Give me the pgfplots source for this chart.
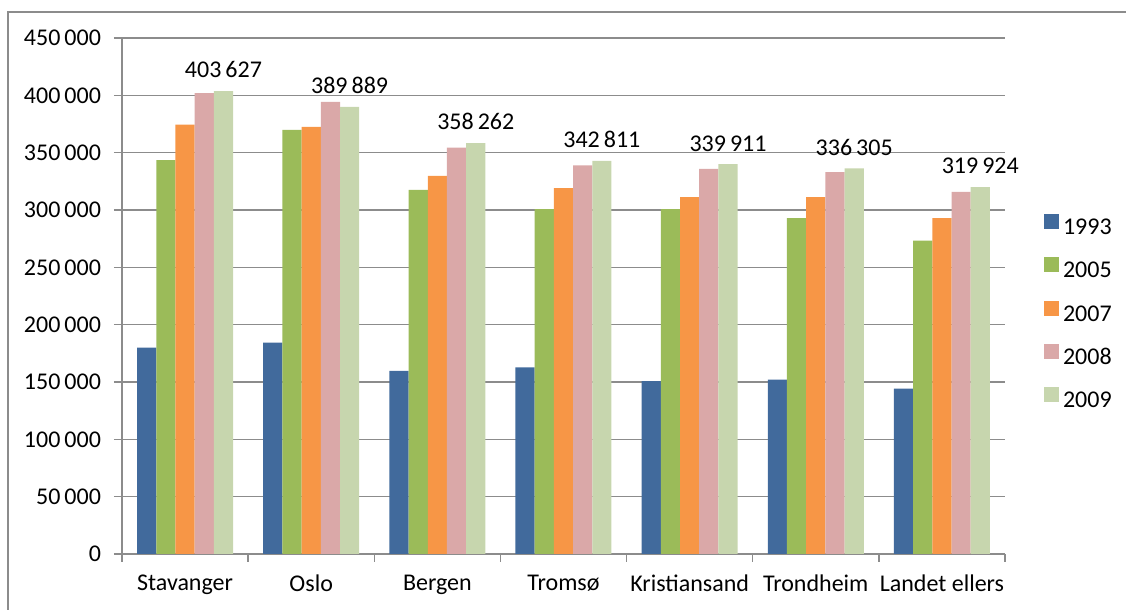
\documentclass[border=0pt]{standalone}
\usepackage{fontspec}
\setmainfont{Carlito}
\usepackage{pgfplots}
\pgfplotsset{compat=1.18}

\definecolor{c1993}{HTML}{416A9C}
\definecolor{c2005}{HTML}{9BBB59}
\definecolor{c2007}{HTML}{F79646}
\definecolor{c2008}{HTML}{DAA8A8}
\definecolor{c2009}{HTML}{C7D6AE}
\definecolor{axgray}{HTML}{8C8C8C}

\begin{document}
\begin{tikzpicture}[font=\fontsize{12}{14}\selectfont]
\begin{axis}[
  at={(61pt,28pt)}, anchor=south west,
  scale only axis, width=441.5pt, height=258pt,
  ybar=0pt, bar width=9.6pt,
  xmin=-0.5, xmax=6.5,
  ymin=0, ymax=450000,
  ytick={0,50000,...,450000},
  scaled y ticks=false,
  /pgf/number format/.cd, fixed, precision=0, 1000 sep={\,}, assume math mode=true,
  /pgfplots/.cd,
  axis x line*=bottom, axis y line*=left,
  axis line style={axgray, line width=0.75pt},
  ymajorgrids, grid style={axgray, line width=0.75pt},
  tick style={axgray, line width=0.75pt},
  major tick length=4pt, tick align=outside,
  xtick={-0.5,0.5,...,6.5}, xticklabels={},
  extra x ticks={0,1,2,3,4,5,6},
  extra x tick labels={Stavanger,Oslo,Bergen,Tromsø,Kristiansand,Trondheim,Landet ellers},
  extra x tick style={major tick length=0pt, xticklabel style={yshift=-7pt}},
  yticklabel style={xshift=-3pt},
  legend style={draw=none, fill=none, at={(1.037,0.467)}, anchor=west,
    nodes={inner sep=0pt, text height=8.5pt, text depth=2pt},
    row sep=9.4pt, column sep=2pt},
  legend cell align=left,
  legend image code/.code={\fill[#1] (0pt,-0.5pt) rectangle (7.5pt,7pt);},
]
\addplot[fill=c1993, draw=none] coordinates {(0,180000) (1,184300) (2,159600) (3,162800) (4,150700) (5,152100) (6,144300)};
\addplot[fill=c2005, draw=none] coordinates {(0,343400) (1,369800) (2,317600) (3,300800) (4,300800) (5,293000) (6,273300)};
\addplot[fill=c2007, draw=none] coordinates {(0,374400) (1,372600) (2,329800) (3,319100) (4,311200) (5,311200) (6,293000)};
\addplot[fill=c2008, draw=none] coordinates {(0,401900) (1,394400) (2,354400) (3,339000) (4,335800) (5,333000) (6,315900)};
\addplot[fill=c2009, draw=none, nodes near coords,
  nodes near coords style={text=black, yshift=3pt}] coordinates {(0,403627) (1,389889) (2,358262) (3,342811) (4,339911) (5,336305) (6,319924)};
\legend{1993,2005,2007,2008,2009}
\end{axis}
\draw[axgray, line width=0.75pt] (4pt,-10pt) -- (4pt,299pt) -- (600pt,299pt);
\pgfresetboundingbox
\path[use as bounding box] (0,0) rectangle (563pt,305pt);
\end{tikzpicture}
\end{document}
